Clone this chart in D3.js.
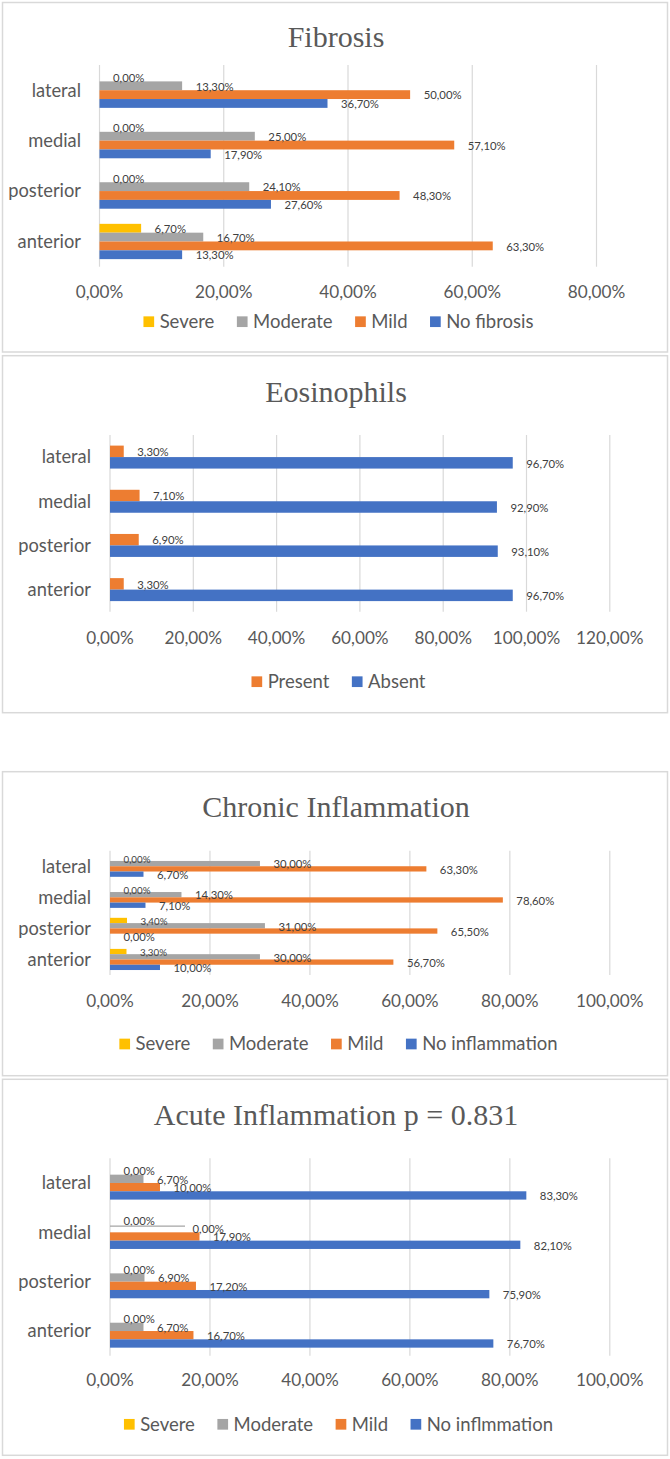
<!DOCTYPE html>
<html><head><meta charset="utf-8">
<script src="https://cdn.jsdelivr.net/npm/d3@7"></script>
<style>body{margin:0;background:#fff} svg{display:block}</style>
</head><body><svg id="c" width="670" height="1459"></svg>
<script>
// ---------- DATA ----------
const categories = ["lateral", "medial", "posterior", "anterior"];

const fibrosisSeries = ["Severe", "Moderate", "Mild", "No fibrosis"];
const fibrosisSevere = [0, 0, 0, 6.7];
const fibrosisModerate = [13.3, 25.0, 24.1, 16.7];
const fibrosisMild = [50.0, 57.1, 48.3, 63.3];
const fibrosisNone = [36.7, 17.9, 27.6, 13.3];
const fibrosisTicks = [0, 20, 40, 60, 80];

const eosSeries = ["Present", "Absent"];
const eosPresent = [3.3, 7.1, 6.9, 3.3];
const eosAbsent = [96.7, 92.9, 93.1, 96.7];
const eosTicks = [0, 20, 40, 60, 80, 100, 120];

const chronicSeries = ["Severe", "Moderate", "Mild", "No inflammation"];
const chronicSevere = [0, 0, 3.4, 3.3];
const chronicModerate = [30.0, 14.3, 31.0, 30.0];
const chronicMild = [63.3, 78.6, 65.5, 56.7];
const chronicNone = [6.7, 7.1, 0, 10.0];
const chronicTicks = [0, 20, 40, 60, 80, 100];

const acuteSeries = ["Severe", "Moderate", "Mild", "No inflmmation"];
const acuteSevere = [0, 0, 0, 0];
const acuteModerate = [6.7, 0, 6.9, 6.7];
const acuteMild = [10.0, 17.9, 17.2, 16.7];
const acuteNone = [83.3, 82.1, 75.9, 76.7];
const acuteTicks = [0, 20, 40, 60, 80, 100];

// ---------- STYLE ----------
const YEL = "#FFC000", GRY = "#A5A5A5", ORA = "#ED7D31", BLU = "#4472C4";
const SANS = "Lato, 'Open Sans', sans-serif";
const SERIF = "'Liberation Serif', 'Times New Roman', serif";
const TXT = "#595959", DTXT = "#404040", GRID = "#d9d9d9";

const ctx = document.createElement("canvas").getContext("2d");
function fit(str, w) { ctx.font = "100px " + SANS; return 100 * w / ctx.measureText(str).width; }
const tickSize = fit("20,00%", 57.5);
const dataSize = fit("13,30%", 38);
const catSize = fit("posterior", 72.8);
const legSize = fit("Moderate", 79.6);

const loc = d3.formatLocale({decimal: ",", thousands: ".", grouping: [3], currency: ["", "€"]});
const pct = v => loc.format(".2%")(v / 100);

const panels = [
  {title: "Fibrosis", series: fibrosisSeries, values: [fibrosisSevere, fibrosisModerate, fibrosisMild, fibrosisNone],
   colors: [YEL, GRY, ORA, BLU], ticks: fibrosisTicks,
   box: [2.5, 2.5, 665, 349.5], titleY: 46.5, x0: 99.5, x1: 596.5, y0: 65, y1: 266.7, pad: 0.3,
   catRight: 81, tickY: 291.7, legendY: 321.7, labelScale: [1, 1, 1, 1]},
  {title: "Eosinophils", series: eosSeries, values: [eosPresent, eosAbsent],
   colors: [ORA, BLU], ticks: eosTicks,
   box: [2.5, 355.7, 665, 357], titleY: 401.5, x0: 110, x1: 609.8, y0: 435, y1: 611.7, pad: 0.48,
   catRight: 91, tickY: 638.3, legendY: 681.7, labelScale: [1, 1]},
  {title: "Chronic Inflammation", series: chronicSeries, values: [chronicSevere, chronicModerate, chronicMild, chronicNone],
   colors: [YEL, GRY, ORA, BLU], ticks: chronicTicks,
   box: [2.5, 771.7, 665, 304], titleY: 816.7, x0: 110, x1: 609.8, y0: 850.7, y1: 975, pad: 0.32,
   catRight: 91, tickY: 1000.7, legendY: 1044, labelScale: [0.86, 1, 1, 1]},
  {title: "Acute Inflammation p = 0.831", series: acuteSeries, values: [acuteSevere, acuteModerate, acuteMild, acuteNone],
   colors: [YEL, GRY, ORA, BLU], ticks: acuteTicks,
   box: [2.5, 1079.3, 665, 376], titleY: 1125, x0: 110, x1: 609.8, y0: 1158.3, y1: 1355.7, pad: 0.326,
   catRight: 91, tickY: 1380, legendY: 1424.3, labelScale: [1, 1, 1, 1],
   moved: {cat: 1, ser: 1, dx: 82.5, lead: 75}}
];

const svg = d3.select("#c");
svg.append("rect").attr("width", 670).attr("height", 1459).attr("fill", "#fff");

panels.forEach(p => {
  const g = svg.append("g");
  g.append("rect").attr("x", p.box[0]).attr("y", p.box[1]).attr("width", p.box[2]).attr("height", p.box[3])
    .attr("fill", "#fff").attr("stroke", GRID).attr("stroke-width", 1.5);

  g.append("text").attr("x", 336).attr("y", p.titleY).attr("text-anchor", "middle")
    .attr("font-family", SERIF).attr("font-size", 30).attr("fill", TXT).text(p.title);

  const x = d3.scaleLinear().domain([0, d3.max(p.ticks)]).range([p.x0, p.x1]);
  const y = d3.scaleBand().domain(categories).range([p.y0, p.y1]).paddingInner(p.pad).paddingOuter(p.pad / 2);
  const yi = d3.scaleBand().domain(p.series).range([0, y.bandwidth()]);

  // gridlines
  g.selectAll("line.grid").data(p.ticks).join("line")
    .attr("x1", d => x(d)).attr("x2", d => x(d)).attr("y1", p.y0).attr("y2", p.y1)
    .attr("stroke", GRID).attr("stroke-width", 1.2);

  // tick labels
  g.selectAll("text.tick").data(p.ticks).join("text")
    .attr("x", d => x(d)).attr("y", p.tickY).attr("dy", "0.35em").attr("text-anchor", "middle")
    .attr("font-family", SANS).attr("font-size", tickSize).attr("fill", TXT).text(d => pct(d));

  // category labels
  g.selectAll("text.cat").data(categories).join("text")
    .attr("x", p.catRight).attr("y", d => y(d) + y.bandwidth() / 2).attr("dy", "0.35em").attr("text-anchor", "end")
    .attr("font-family", SANS).attr("font-size", catSize).attr("fill", TXT).text(d => d);

  // bars + labels
  const recs = [];
  p.series.forEach((s, si) => categories.forEach((c, ci) => recs.push({s, si, c, ci, v: p.values[si][ci]})));
  g.selectAll("rect.bar").data(recs.filter(d => d.v > 0)).join("rect")
    .attr("x", x(0)).attr("y", d => y(d.c) + yi(d.s)).attr("width", d => x(d.v) - x(0)).attr("height", yi.bandwidth())
    .attr("fill", d => p.colors[d.si]);

  recs.forEach(d => {
    const cy = y(d.c) + yi(d.s) + yi.bandwidth() / 2;
    let lx = x(d.v) + 13.5;
    if (p.moved && p.moved.cat === d.ci && p.moved.ser === d.si) {
      lx = x(0) + p.moved.dx;
      g.append("line").attr("x1", x(0)).attr("x2", x(0) + p.moved.lead).attr("y1", cy - 2).attr("y2", cy - 2)
        .attr("stroke", GRY).attr("stroke-width", 1.3);
    }
    g.append("text").attr("x", lx).attr("y", cy + 0.8).attr("dy", "0.35em")
      .attr("font-family", SANS).attr("font-size", dataSize * p.labelScale[d.si]).attr("fill", DTXT).text(pct(d.v));
  });

  // legend
  const sq = 10.7, gt = 5.5, gi = 22.5;
  const items = p.series.map((s, i) => {
    const t = g.append("text").attr("y", p.legendY).attr("dy", "0.35em")
      .attr("font-family", SANS).attr("font-size", legSize).attr("fill", TXT).text(s);
    return {t, w: t.node().getComputedTextLength(), c: p.colors[i]};
  });
  const total = d3.sum(items, d => sq + gt + d.w) + gi * (items.length - 1);
  let cx = 338.5 - total / 2;
  items.forEach(it => {
    g.append("rect").attr("x", cx).attr("y", p.legendY - sq / 2).attr("width", sq).attr("height", sq).attr("fill", it.c);
    it.t.attr("x", cx + sq + gt);
    cx += sq + gt + it.w + gi;
  });
});
</script></body></html>
